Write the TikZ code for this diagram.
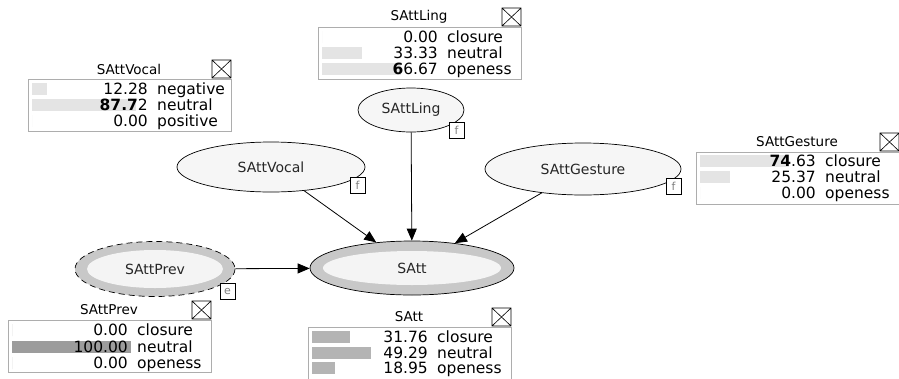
\documentclass[tikz,border=0pt]{standalone}
\usepackage{fontspec}
\setmainfont{DejaVu Sans}
\usetikzlibrary{shapes.geometric,arrows.meta}
\definecolor{band}{HTML}{C8C8C8}
\definecolor{innerfill}{HTML}{F4F4F4}
\definecolor{nodefill}{HTML}{F6F6F6}
\definecolor{barlight}{HTML}{E4E4E4}
\definecolor{barmid}{HTML}{B4B4B4}
\definecolor{bardark}{HTML}{9C9C9C}
\definecolor{boxgray}{HTML}{ADADAD}
\definecolor{fgray}{HTML}{808080}
% #1 name, #2 left, #3 body top, #4 title
\newcommand\cptbox[4]{%
  \draw[boxline] (#2,#3) rectangle ++(203,52);
  \node[titletext] (#1-title) at (#2+101,#3-10) {#4};
  \draw[closeline] (#2+184,#3-19) rectangle (#2+203,#3-1)
    (#2+184,#3-19) -- (#2+203,#3-1) (#2+184,#3-1) -- (#2+203,#3-19);
}
% #1 name, #2 left, #3 row y, #4 percent, #5 colour, #6 number, #7 label
\newcommand\cptrow[7]{%
  \fill[#5] (#2+4,#3-6) rectangle ++({1.19*#4},12);
  \node[numtext, anchor=base east] (#1-n) at (#2+120,#3+5.5) {#6};
  \node[numtext, anchor=base west] (#1-l) at (#2+129,#3+5.5) {#7};
}
\begin{document}
\begin{tikzpicture}[x=1pt,y=-1pt,
  boxline/.style={draw=boxgray, line width=0.6pt},
  closeline/.style={draw=black, line width=0.6pt},
  titletext/.style={inner sep=0pt, font=\fontsize{13.5}{14}\selectfont},
  numtext/.style={inner sep=0pt, font=\fontsize{15.5}{16}\selectfont},
  elabel/.style={inner sep=0pt, font=\fontsize{14}{15}\selectfont, text=black!85},
  plainell/.style={ellipse, draw=black, line width=0.7pt, fill=nodefill, inner sep=0pt, font=\fontsize{14}{15}\selectfont, text=black!85},
  bandell/.style={ellipse, draw=black, line width=0.7pt, fill=band, inner sep=0pt},
  fbox/.style={draw=black, line width=0.6pt, fill=white, minimum width=15pt, minimum height=16pt, inner sep=0pt, font=\fontsize{11}{11}\selectfont, text=fgray},
  arr/.style={draw=black, line width=0.8pt, -{Triangle[length=12pt,width=10pt]}}
]
\useasboundingbox (0,0) rectangle (899,378);

% ellipses
\node[plainell, minimum width=106pt, minimum height=44pt] (ling) at (411,110) {SAttLing};
\node[plainell, minimum width=188pt, minimum height=50pt] (vocal) at (271,167) {SAttVocal};
\node[plainell, minimum width=196pt, minimum height=52pt] (gesture) at (583,169) {SAttGesture};

\node[bandell, minimum width=204pt, minimum height=54pt] (satt) at (412,268) {};
\fill[innerfill] (satt.center) ellipse [x radius=89, y radius=17];
\node[elabel] (satt-text) at (satt.center) {SAtt};

\node[bandell, draw=none, minimum width=160pt, minimum height=55pt] (prev) at (155,269) {};
\fill[innerfill] (prev.center) ellipse [x radius=68, y radius=19];
\draw[black, line width=0.7pt, dash pattern=on 6pt off 4pt] (prev.center) ellipse [x radius=80, y radius=27.5];
\node[elabel] (prev-text) at (prev.center) {SAttPrev};

% small boxes
\node[fbox, anchor=north east] (ling-f) at ([yshift=-12pt]ling.east) {f};
\node[fbox, anchor=north east] (vocal-f) at ([yshift=-10pt]vocal.east) {f};
\node[fbox, anchor=north east] (gesture-f) at ([yshift=-9pt]gesture.east) {f};
\node[fbox, anchor=north east] (prev-e) at ([yshift=-14pt]prev.east) {e};

% arrows
\draw[arr] (ling) -- (satt);
\draw[arr] (vocal) -- (satt);
\draw[arr] (gesture) -- (satt);
\draw[arr] (prev) -- (satt);

% tables
\cptbox{tling}{318}{27}{SAttLing}
\cptrow{tling1}{318}{37}{0}{barlight}{0.00}{closure}
\cptrow{tling2}{318}{53}{33.33}{barlight}{33.33}{neutral}
\cptrow{tling3}{318}{69}{66.67}{barlight}{{\bfseries 6}6.67}{openess}

\cptbox{tvocal}{28}{79}{SAttVocal}
\cptrow{tvocal1}{28}{89}{12.28}{barlight}{12.28}{negative}
\cptrow{tvocal2}{28}{105}{87.72}{barlight}{{\bfseries 87.7}2}{neutral}
\cptrow{tvocal3}{28}{121}{0}{barlight}{0.00}{positive}

\cptbox{tgest}{696}{152}{SAttGesture}
\cptrow{tgest1}{696}{161}{74.63}{barlight}{{\bfseries 74}.63}{closure}
\cptrow{tgest2}{696}{177}{25.37}{barlight}{25.37}{neutral}
\cptrow{tgest3}{696}{193}{0}{barlight}{0.00}{openess}

\cptbox{tprev}{8}{320}{SAttPrev}
\cptrow{tprev1}{8}{330}{0}{bardark}{0.00}{closure}
\cptrow{tprev2}{8}{347}{100}{bardark}{100.00}{neutral}
\cptrow{tprev3}{8}{363}{0}{bardark}{0.00}{openess}

\cptbox{tsatt}{308}{327}{SAtt}
\cptrow{tsatt1}{308}{337}{31.76}{barmid}{31.76}{closure}
\cptrow{tsatt2}{308}{353}{49.29}{barmid}{49.29}{neutral}
\cptrow{tsatt3}{308}{368}{18.95}{barmid}{18.95}{openess}
\end{tikzpicture}
\end{document}
